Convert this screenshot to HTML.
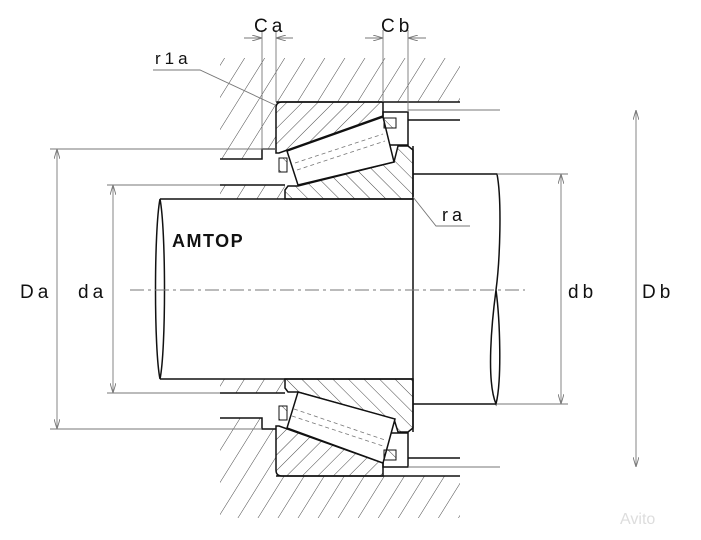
<!DOCTYPE html>
<html><head><meta charset="utf-8"><style>
html,body{margin:0;padding:0;background:#fff;}
svg{display:block;}
text{font-family:"Liberation Sans","DejaVu Sans",sans-serif;fill:#111;}
</style></head><body>
<svg width="701" height="540" viewBox="0 0 701 540" xmlns="http://www.w3.org/2000/svg">
<defs>
<pattern id="h1" patternUnits="userSpaceOnUse" width="17" height="17" patternTransform="rotate(32)">
<line x1="0" y1="0" x2="0" y2="17" stroke="#333" stroke-width="0.9"/></pattern>
<pattern id="h2" patternUnits="userSpaceOnUse" width="11" height="11" patternTransform="rotate(-45)">
<line x1="0" y1="0" x2="0" y2="11" stroke="#333" stroke-width="0.9"/></pattern>
<pattern id="h3" patternUnits="userSpaceOnUse" width="11" height="11" patternTransform="rotate(45)">
<line x1="0" y1="0" x2="0" y2="11" stroke="#333" stroke-width="0.9"/></pattern>
<marker id="a" markerWidth="10" markerHeight="6" refX="10" refY="3" orient="auto" markerUnits="userSpaceOnUse">
<path d="M0,0 L10,3 L0,6" fill="none" stroke="#777" stroke-width="0.9"/></marker>
</defs>
<g fill="none" stroke="#111" stroke-width="1.5">
<path d="M220,58 L460,58 L460,102 L276,102 L276,149 L262,149 L262,159 L220,159 Z" fill="url(#h1)" stroke="none"/>
<path d="M220,159 L262,159 L262,149 L276,149 M276,102 L460,102 M408,120 L460,120"/>
<path d="M220,418 L262,418 L262,429 L276,429 L276,476 L460,476 L460,518 L220,518 Z" fill="url(#h1)" stroke="none"/>
<path d="M220,418 L262,418 L262,429 L276,429 M276,476 L460,476 M408,458 L460,458"/>
<path d="M220,185 L285,185 L285,199 L220,199 Z" fill="url(#h1)" stroke="none"/>
<path d="M220,379 L285,379 L285,393 L220,393 Z" fill="url(#h1)" stroke="none"/>
<path d="M220,185 L285,185 M220,393 L285,393"/>
<rect x="383" y="112" width="25" height="33"/>
<rect x="383" y="433" width="25" height="34"/>
<path d="M282,102 L383,102 L383,116 L279,153 L276,153 L276,108 Q276,102 282,102 Z" fill="url(#h3)"/>
<path d="M285,199 L413,199 L413,150 L408,146 L398,146 L394,162 L298,186 L288,186 L285,190 Z" fill="url(#h2)"/>
<path d="M287,151 L383,117 L394,162 L298,185 Z" fill="#fff"/>
<path d="M295,163 L383,134 M297,170 L385,141" stroke="#777" stroke-width="0.8" stroke-dasharray="4,3"/>
<rect x="279" y="158" width="8" height="14" fill="url(#h2)" stroke-width="1"/>
<rect x="384" y="118" width="12" height="10" fill="url(#h2)" stroke-width="1"/>
<path d="M282,476 L383,476 L383,463 L279,426 L276,426 L276,470 Q276,476 282,476 Z" fill="url(#h3)"/>
<path d="M285,379 L413,379 L413,428 L408,432 L398,432 L394,419 L298,392 L288,392 L285,388 Z" fill="url(#h2)"/>
<path d="M287,428 L383,463 L395,419 L298,392 Z" fill="#fff"/>
<path d="M292,416 L383,446 M294,409 L385,440" stroke="#777" stroke-width="0.8" stroke-dasharray="4,3"/>
<rect x="279" y="406" width="8" height="14" fill="url(#h2)" stroke-width="1"/>
<rect x="384" y="450" width="12" height="10" fill="url(#h2)" stroke-width="1"/>
<path d="M160,199 L413,199 M160,379 L413,379 M413,146 L413,432"/>
<path d="M160,199 C154,230 154,350 160,379 C166,350 166,230 160,199 Z"/>
<path d="M413,174 L497,174 C502,200 500,260 496,290 C492,320 486,380 496,404 C502,380 500,320 496,290 M413,404 L496,404"/>
</g>
<g fill="none" stroke="#777" stroke-width="0.9">
<line x1="262" y1="30" x2="262" y2="149"/><line x1="276" y1="30" x2="276" y2="102"/>
<line x1="244" y1="38" x2="262" y2="38" marker-end="url(#a)"/><line x1="293" y1="38" x2="276" y2="38" marker-end="url(#a)"/>
<line x1="383" y1="30" x2="383" y2="102"/><line x1="408" y1="30" x2="408" y2="112"/>
<line x1="365" y1="38" x2="383" y2="38" marker-end="url(#a)"/><line x1="426" y1="38" x2="408" y2="38" marker-end="url(#a)"/>
<line x1="408" y1="110" x2="500" y2="110"/><line x1="408" y1="467" x2="500" y2="467"/>
<line x1="497" y1="174" x2="568" y2="174"/><line x1="497" y1="404" x2="568" y2="404"/>
<line x1="50" y1="149" x2="276" y2="149"/><line x1="50" y1="429" x2="262" y2="429"/>
<line x1="107" y1="185" x2="220" y2="185"/><line x1="107" y1="393" x2="220" y2="393"/>
<line x1="57" y1="290" x2="57" y2="149" marker-end="url(#a)"/><line x1="57" y1="290" x2="57" y2="429" marker-end="url(#a)"/>
<line x1="113" y1="290" x2="113" y2="185" marker-end="url(#a)"/><line x1="113" y1="290" x2="113" y2="393" marker-end="url(#a)"/>
<line x1="561" y1="290" x2="561" y2="174" marker-end="url(#a)"/><line x1="561" y1="290" x2="561" y2="404" marker-end="url(#a)"/>
<line x1="636" y1="290" x2="636" y2="110" marker-end="url(#a)"/><line x1="636" y1="290" x2="636" y2="467" marker-end="url(#a)"/>
<line x1="130" y1="290" x2="525" y2="290" stroke-dasharray="14,4,3,4"/>
<polyline points="153,70 200,70 275,105"/>
<polyline points="413,197 436,226 470,226"/>
</g>
<text x="254" y="32" font-size="19" letter-spacing="4">Ca</text>
<text x="381" y="32" font-size="19" letter-spacing="4">Cb</text>
<text x="155" y="64" font-size="17" letter-spacing="4">r1a</text>
<text x="442" y="221" font-size="18" letter-spacing="4">ra</text>
<text x="20" y="298" font-size="19" letter-spacing="4">Da</text>
<text x="78" y="298" font-size="19" letter-spacing="4">da</text>
<text x="568" y="298" font-size="19" letter-spacing="4">db</text>
<text x="642" y="298" font-size="19" letter-spacing="4">Db</text>
<text x="172" y="247" font-weight="bold" font-size="18" letter-spacing="1.5">AMTOP</text>
<text x="620" y="524" font-size="16" fill="#ddd" style="fill:#ddd">Avito</text>
</svg>
</body></html>
